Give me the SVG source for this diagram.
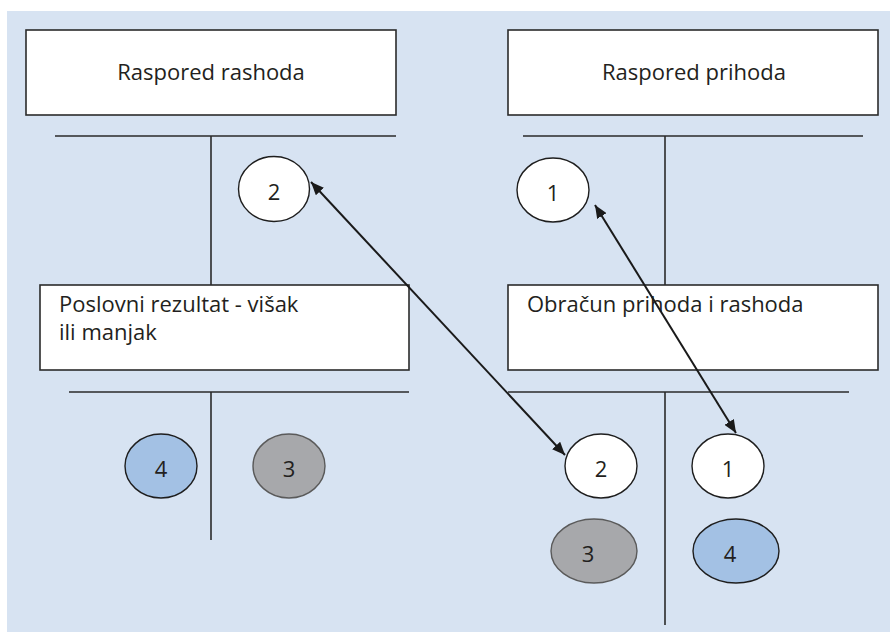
<svg xmlns="http://www.w3.org/2000/svg" width="890" height="632" viewBox="0 0 890 632">
<style>
.box{fill:#ffffff;stroke:#2b2b2b;stroke-width:1.6}
.ln{stroke:#2b2b2b;stroke-width:1.6;fill:none}
.t{font-family:"Open Sans","Liberation Sans",sans-serif;font-size:22px;fill:#231f20}
.c{text-anchor:middle}
.ew{fill:#ffffff;stroke:#1e1e1e;stroke-width:1.4}
.eb{fill:#a3c1e4;stroke:#1e1e1e;stroke-width:1.4}
.eg{fill:#a7a8ab;stroke:#5a5a5a;stroke-width:1.4}
.ar{stroke:#1a1a1a;stroke-width:2;fill:none}
</style>
<defs>
<marker id="ah" viewBox="0 0 13 11" refX="13" refY="5.5" markerWidth="13" markerHeight="11" markerUnits="userSpaceOnUse" orient="auto-start-reverse">
<path d="M0,0 L13,5.5 L0,11 Z" fill="#1a1a1a"/>
</marker>
</defs>
<rect x="7" y="11" width="883" height="621" fill="#d7e3f2"/>
<g id="t-accounts">
<path class="ln" d="M55,136 H396 M211,136 V285"/>
<path class="ln" d="M523,136 H863 M665,136 V285"/>
<path class="ln" d="M69,392 H409 M211,392 V540"/>
<path class="ln" d="M508,392 H849 M665,392 V625"/>
</g>
<g id="raspored-rashoda">
<rect class="box" x="26" y="30" width="370" height="85"/>
<text class="t c" x="211" y="80">Raspored rashoda</text>
</g>
<g id="raspored-prihoda">
<rect class="box" x="508" y="30" width="370" height="85"/>
<text class="t c" x="694" y="80">Raspored prihoda</text>
</g>
<g id="poslovni-rezultat">
<rect class="box" x="40" y="285" width="369" height="85"/>
<text class="t" x="59" y="312">Poslovni rezultat - višak</text>
<text class="t" x="59" y="340">ili manjak</text>
</g>
<g id="obracun">
<rect class="box" x="508" y="285" width="370" height="85"/>
<text class="t" x="527" y="312">Obračun prihoda i rashoda</text>
</g>
<g id="e2-top"><ellipse class="ew" cx="274" cy="189" rx="35.5" ry="32.5"/><text class="t c" x="274" y="200">2</text></g>
<g id="e1-top"><ellipse class="ew" cx="553" cy="190" rx="36" ry="32"/><text class="t c" x="553" y="201">1</text></g>
<g id="e4-left"><ellipse class="eb" cx="161" cy="466" rx="36" ry="32"/><text class="t c" x="161" y="477">4</text></g>
<g id="e3-left"><ellipse class="eg" cx="289" cy="466" rx="36" ry="32"/><text class="t c" x="289" y="477">3</text></g>
<g id="e2-bottom"><ellipse class="ew" cx="601" cy="466" rx="36" ry="32"/><text class="t c" x="601" y="477">2</text></g>
<g id="e1-bottom"><ellipse class="ew" cx="728" cy="466" rx="36" ry="32"/><text class="t c" x="728" y="477">1</text></g>
<g id="e3-bottom"><ellipse class="eg" cx="594" cy="551" rx="43" ry="32"/><text class="t c" x="588" y="562">3</text></g>
<g id="e4-bottom"><ellipse class="eb" cx="736" cy="551" rx="43" ry="32"/><text class="t c" x="730" y="562">4</text></g>
<g id="connectors">
<line class="ar" x1="565" y1="455" x2="311" y2="182" marker-start="url(#ah)" marker-end="url(#ah)"/>
<line class="ar" x1="736" y1="433" x2="595" y2="205" marker-start="url(#ah)" marker-end="url(#ah)"/>
</g>
</svg>
